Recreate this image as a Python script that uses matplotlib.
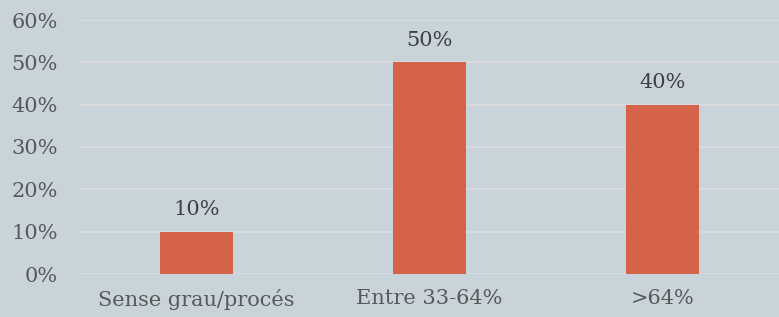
import matplotlib.pyplot as plt

categories = ['Sense grau/procés', 'Entre 33-64%', '>64%']
values = [10, 50, 40]
yticks = [0, 10, 20, 30, 40, 50, 60]

bg = '#c9d3da'
bar_color = '#d4634a'

plt.rcParams['font.family'] = ['DejaVu Serif']

fig = plt.figure(figsize=(7.79, 3.17), dpi=100, facecolor=bg)
ax = fig.add_axes([80 / 779, 1 - 274 / 317, 1 - 80 / 779, 254 / 317])
ax.set_facecolor(bg)

x = range(len(categories))
bars = ax.bar(x, values, width=0.313, color=bar_color, zorder=3)

for xi, v in zip(x, values):
    ax.annotate(f'{v}%', (xi, v), xytext=(0, 9), textcoords='offset points',
                ha='center', va='bottom', fontsize=15, color='#404040')

ax.set_xlim(-0.5, 2.5)
ax.set_ylim(0, 60)
ax.set_yticks(yticks)
ax.set_yticklabels([f'{t}%' for t in yticks], fontsize=15, color='#595959')
ax.set_xticks(list(x))
ax.set_xticklabels(categories, fontsize=15, color='#595959')
ax.tick_params(length=0)
ax.tick_params(axis='y', pad=16)
ax.tick_params(axis='x', pad=11)
ax.yaxis.grid(True, color='#dcdcdc', linewidth=1.2, zorder=0)
for s in ax.spines.values():
    s.set_visible(False)

fig.savefig('out.png', dpi=100, facecolor=bg)
